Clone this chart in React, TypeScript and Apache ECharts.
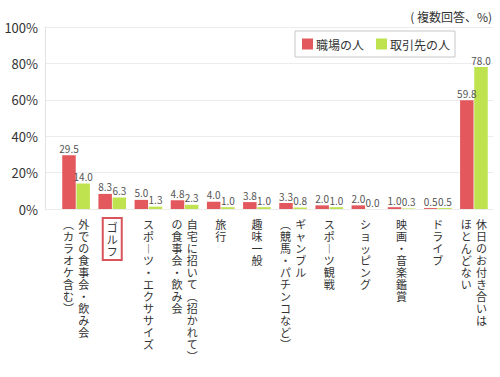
import React, { useEffect, useRef } from "react";
import * as echarts from "echarts";

// Each category: columns of vertical text, first column is the rightmost one
const categories: string[] = [
  "外での食事会・飲み会\n（カラオケ含む）",
  "ゴルフ",
  "スポーツ・エクササイズ",
  "自宅に招いて（招かれて）\nの食事会・飲み会",
  "旅行",
  "趣味一般",
  "ギャンブル\n（競馬・パチンコなど）",
  "スポーツ観戦",
  "ショッピング",
  "映画・音楽鑑賞",
  "ドライブ",
  "休日のお付き合いは\nほとんどない",
];
const workplace: number[] = [29.5, 8.3, 5.0, 4.8, 4.0, 3.8, 3.3, 2.0, 2.0, 1.0, 0.5, 59.8];
const clients: number[] = [14.0, 6.3, 1.3, 2.3, 1.0, 1.0, 0.8, 1.0, 0.0, 0.3, 0.5, 78.0];
const seriesNames: string[] = ["職場の人", "取引先の人"];
const highlighted = "ゴルフ";
const subtitle = "( 複数回答、%)";

const FONT = "'Noto Sans CJK JP', 'Noto Sans', sans-serif";

const verticalMap: Record<string, string> = {
  "ー": "︱",
  "（": "︵",
  "）": "︶",
  "、": "︑",
};

function toVertical(label: string): string {
  const cols = label.split("\n").map((c) => Array.from(c).map((ch) => verticalMap[ch] ?? ch));
  const maxLen = Math.max(...cols.map((c) => c.length));
  const lines: string[] = [];
  const ordered = [...cols].reverse();
  for (let i = 0; i < maxLen; i++) {
    lines.push(ordered.map((c) => c[i] ?? "\u3000").join("\u2009\u2009"));
  }
  return lines.join("\n");
}

export default function App() {
  const ref = useRef<HTMLDivElement>(null);
  useEffect(() => {
    if (!ref.current) return;
    const chart = echarts.init(ref.current, null, { renderer: "svg" });
    const top = 27;
    const bottom = 168;
    chart.setOption({
      animation: false,
      textStyle: { fontFamily: FONT },
      title: {
        text: subtitle,
        right: 8,
        top: 10,
        padding: 0,
        textStyle: { fontSize: 12, fontWeight: "normal", color: "#333", fontFamily: FONT },
      },
      legend: {
        data: seriesNames,
        left: 295,
        top: 31,
        orient: "horizontal",
        icon: "rect",
        itemWidth: 11,
        itemHeight: 11,
        itemGap: 12,
        padding: [7, 5, 7, 7],
        borderColor: "#c8c8c8",
        borderWidth: 1,
        backgroundColor: "#fff",
        textStyle: { fontSize: 12, color: "#333", fontFamily: FONT, padding: [0, 0, 0, -2] },
      },
      grid: [
        { left: 45, right: 7, top, bottom, containLabel: false },
        { left: 58, right: 8, top, bottom, containLabel: false },
      ],
      xAxis: [
        { type: "value", gridIndex: 0, show: false, min: 0, max: 1 },
        {
          type: "category",
          gridIndex: 1,
          data: categories.map((c) =>
            c === highlighted
              ? {
                  value: c,
                  textStyle: {
                    borderColor: "#d9555b",
                    borderWidth: 2,
                    padding: [3, 4, 3, 4],
                  },
                }
              : c
          ),
          axisLine: { show: false },
          axisTick: { show: false },
          axisLabel: {
            interval: 0,
            margin: 9,
            fontSize: 11,
            lineHeight: 12,
            color: "#333",
            fontFamily: FONT,
            verticalAlign: "top",
            formatter: (v: string) => toVertical(v),
          },
        },
      ],
      yAxis: [
        {
          type: "value",
          gridIndex: 0,
          min: 0,
          max: 100,
          interval: 20,
          axisLine: { show: true, lineStyle: { color: "#e2e2e2" } },
          axisTick: { show: false },
          splitLine: { lineStyle: { color: "#ececec" } },
          axisLabel: {
            formatter: "{value}%",
            fontSize: 13,
            color: "#333",
            margin: 7,
            fontFamily: FONT,
          },
        },
        {
          type: "value",
          gridIndex: 1,
          min: 0,
          max: 100,
          interval: 20,
          show: false,
          splitLine: { show: false },
        },
      ],
      series: [
        {
          name: seriesNames[0],
          type: "bar",
          xAxisIndex: 1,
          yAxisIndex: 1,
          data: workplace,
          barWidth: 13.5,
          barGap: "5%",
          itemStyle: { color: "#e3585d" },
          label: {
            show: true,
            position: "top",
            distance: 2,
            fontSize: 10,
            color: "#555",
            fontFamily: FONT,
            formatter: (p: any) => Number(p.value).toFixed(1),
          },
        },
        {
          name: seriesNames[1],
          type: "bar",
          xAxisIndex: 1,
          yAxisIndex: 1,
          data: clients,
          barWidth: 13.5,
          itemStyle: { color: "#bfe34e" },
          label: {
            show: true,
            position: "top",
            distance: 2,
            fontSize: 10,
            color: "#555",
            fontFamily: FONT,
            formatter: (p: any) => Number(p.value).toFixed(1),
          },
        },
      ],
    });
    return () => chart.dispose();
  }, []);
  return <div ref={ref} style={{ width: 500, height: 377, position: "absolute", left: 0, top: 0 }} />;
}
